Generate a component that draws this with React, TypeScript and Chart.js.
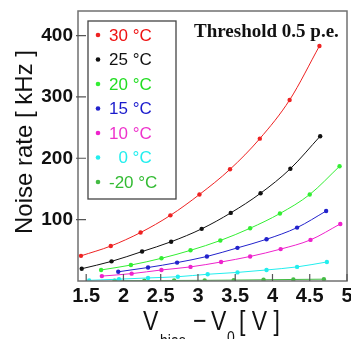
import React, { useEffect, useRef } from "react";
import { Chart, registerables } from "chart.js";

Chart.register(...registerables);

// ---- data ----
const seriesLabels = ["30 °C", "25 °C", "20 °C", "15 °C", "10 °C", "  0 °C", "-20 °C"];
const lineColors = ["#ee2222", "#111111", "#33ee33", "#2222cc", "#ee22cc", "#22eeee", "#44bb44"];
const textColors = ["#ee1111", "#111111", "#22dd22", "#1a1acc", "#ee33cc", "#22eeee", "#33bb33"];

const x30 = [1.43, 1.83, 2.23, 2.63, 3.02, 3.43, 3.83, 4.23, 4.63];
const y30 = [41, 57, 79, 107, 141, 182, 232, 295, 383];
const x25 = [1.44, 1.84, 2.25, 2.64, 3.05, 3.44, 3.84, 4.24, 4.64];
const y25 = [20, 32, 48, 64, 85, 111, 143, 183, 236];
const x20 = [1.7, 2.1, 2.51, 2.9, 3.3, 3.7, 4.1, 4.5, 4.9];
const y20 = [18, 26, 37, 50, 66, 86, 110, 141, 187];
const x15 = [1.93, 2.33, 2.72, 3.12, 3.53, 3.92, 4.33, 4.72];
const y15 = [15, 22, 30, 40, 54, 68, 87, 114];
const x10 = [1.71, 2.11, 2.51, 2.9, 3.31, 3.7, 4.11, 4.51, 4.91];
const y10 = [8, 12, 18, 23, 31, 40, 52, 67, 93];
const x0 = [1.54, 1.94, 2.33, 2.73, 3.13, 3.53, 3.92, 4.33, 4.73];
const y0 = [1, 3, 5, 7, 11, 14, 18, 23, 31];
const xm20 = [1.88, 2.28, 2.68, 3.09, 3.48, 3.88, 4.28, 4.69];
const ym20 = [0.5, 0.6, 0.9, 1.1, 1.5, 2, 2.5, 3];

const seriesX = [x30, x25, x20, x15, x10, x0, xm20];
const seriesY = [y30, y25, y20, y15, y10, y0, ym20];

const xTickValues = [1.5, 2, 2.5, 3, 3.5, 4, 4.5, 5];
const yTickValues = [100, 200, 300, 400];

const titleText = "Threshold 0.5 p.e.";
const yTitleText = "Noise rate [ kHz ]";

const SANS = "'Liberation Sans', Arial, sans-serif";
const SERIF = "'Liberation Serif', 'Times New Roman', serif";

const decorPlugin = {
  id: "decor",
  afterDatasetsDraw(chart: any) {
    const ctx = chart.ctx as CanvasRenderingContext2D;
    const { left, right, top, bottom } = chart.chartArea;
    const xs = chart.scales.x;
    const ys = chart.scales.y;
    ctx.save();
    // frame
    ctx.strokeStyle = "#707070";
    ctx.lineWidth = 1.5;
    ctx.strokeRect(left, top, right - left, bottom - top);
    // inward ticks
    ctx.strokeStyle = "#555555";
    ctx.lineWidth = 1.2;
    ctx.beginPath();
    for (const t of xs.ticks) {
      const px = xs.getPixelForValue(t.value);
      ctx.moveTo(px, bottom);
      ctx.lineTo(px, bottom - 7);
    }
    for (const t of ys.ticks) {
      const py = ys.getPixelForValue(t.value);
      ctx.moveTo(left - 2, py);
      ctx.lineTo(left + 8, py);
    }
    ctx.stroke();

    // legend box
    const bx = 88, by = 21, bw = 88, bh = 178;
    ctx.fillStyle = "#ffffff";
    ctx.fillRect(bx, by, bw, bh);
    ctx.strokeStyle = "#444444";
    ctx.lineWidth = 1.3;
    ctx.strokeRect(bx, by, bw, bh);
    ctx.font = `17px ${SANS}`;
    ctx.textAlign = "left";
    ctx.textBaseline = "middle";
    chart.data.datasets.forEach((ds: any, i: number) => {
      const ry = 35 + i * 24.5;
      ctx.fillStyle = ds.borderColor;
      ctx.beginPath();
      ctx.arc(98, ry, 2.3, 0, Math.PI * 2);
      ctx.fill();
      ctx.fillStyle = textColors[i];
      ctx.fillText(ds.label, 109, ry + 1);
    });

    // title
    ctx.fillStyle = "#111111";
    ctx.font = `bold 19px ${SERIF}`;
    ctx.textBaseline = "alphabetic";
    ctx.fillText(titleText, 194, 37);

    // y title
    ctx.save();
    ctx.translate(32, 142);
    ctx.rotate(-Math.PI / 2);
    ctx.textAlign = "center";
    ctx.font = `24px ${SANS}`;
    ctx.fillStyle = "#111111";
    ctx.fillText(yTitleText, 0, 0);
    ctx.restore();

    // x title
    const piece = (txt: string, x: number, y: number, size: number) => {
      ctx.save();
      ctx.translate(x, y);
      ctx.scale(1, 1.22);
      ctx.font = `${size}px ${SANS}`;
      ctx.fillText(txt, 0, 0);
      ctx.restore();
    };
    ctx.fillStyle = "#111111";
    ctx.textAlign = "left";
    piece("V", 143, 330, 23);
    piece("bias", 160, 346, 14);
    piece("\u2212", 193, 330, 23);
    piece("V", 211, 330, 23);
    piece("0", 227, 343, 14);
    piece("[ V ]", 239, 330, 23);
    ctx.restore();
  },
};

export default function App() {
  const ref = useRef<HTMLCanvasElement | null>(null);
  useEffect(() => {
    if (!ref.current) return;
    const datasets = seriesLabels.map((label, i) => ({
      label,
      data: seriesX[i].map((x, j) => ({ x, y: seriesY[i][j] })),
      borderColor: lineColors[i],
      backgroundColor: lineColors[i],
      pointBackgroundColor: lineColors[i],
      pointBorderWidth: 0,
      pointRadius: 2.2,
      borderWidth: 1,
      showLine: true,
      cubicInterpolationMode: "monotone" as const,
    }));
    const chart = new Chart(ref.current, {
      type: "scatter",
      data: { datasets },
      options: {
        animation: false,
        responsive: false,
        events: [],
        layout: { padding: { top: 11, right: 2, left: 0, bottom: 0 } },
        plugins: { legend: { display: false }, tooltip: { enabled: false } },
        scales: {
          x: {
            type: "linear",
            min: 1.39,
            max: 5.0,
            grid: { display: false, drawTicks: false },
            border: { display: false },
            afterBuildTicks: (s: any) => {
              s.ticks = xTickValues.map((v) => ({ value: v }));
            },
            afterFit: (s: any) => {
              s.height = 58;
              s.paddingLeft = 0;
              s.paddingRight = 0;
            },
            ticks: {
              autoSkip: false,
              maxRotation: 0,
              includeBounds: false,
              padding: 3,
              color: "#111111",
              font: { family: SANS, size: 20, weight: "bold" },
              callback: (v: any) => String(v),
            },
          },
          y: {
            type: "linear",
            min: 0,
            max: 440,
            grid: { display: false, drawTicks: false },
            border: { display: false },
            afterBuildTicks: (s: any) => {
              s.ticks = yTickValues.map((v) => ({ value: v }));
            },
            afterFit: (s: any) => {
              s.width = 78;
              s.paddingTop = 0;
              s.paddingBottom = 0;
            },
            ticks: {
              autoSkip: false,
              includeBounds: false,
              padding: 5,
              color: "#111111",
              font: { family: SANS, size: 19, weight: "bold" },
              callback: (v: any) => String(v),
            },
          },
        },
      },
      plugins: [decorPlugin],
    });
    return () => chart.destroy();
  }, []);
  return (
    <div style={{ position: "fixed", left: 0, top: 0, width: 351, height: 339, background: "#fff" }}>
      <canvas ref={ref} width={351} height={339} style={{ display: "block", width: 351, height: 339 }} />
    </div>
  );
}
